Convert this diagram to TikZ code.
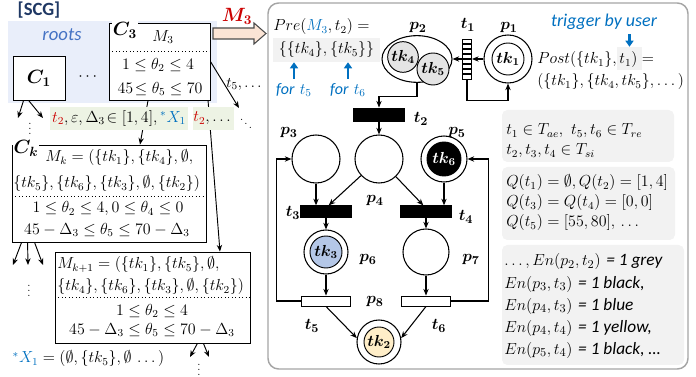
\documentclass[tikz,border=0pt]{standalone}
\usepackage{amsmath,amssymb}
\usepackage{bm}
\usepackage{fontspec}
\newfontfamily\calib{Carlito}
\usetikzlibrary{arrows.meta,positioning,shapes.geometric}

\definecolor{scgnavy}{RGB}{31,56,100}
\definecolor{rootblue}{RGB}{68,114,196}
\definecolor{noteblue}{RGB}{0,112,192}
\definecolor{labred}{RGB}{204,0,0}
\definecolor{bgblue}{RGB}{233,238,250}
\definecolor{bggreen}{RGB}{237,243,228}
\definecolor{bggrey}{RGB}{242,242,242}
\definecolor{tokgrey}{RGB}{228,228,228}
\definecolor{tokblue}{RGB}{180,199,231}
\definecolor{tokyellow}{RGB}{255,238,200}
\definecolor{peach}{RGB}{251,228,213}
\definecolor{framegrey}{RGB}{165,165,165}

\tikzset{
  arc/.style={-{Stealth[length=5pt,width=4pt]}, line width=0.8pt},
  tree/.style={-{Stealth[length=5pt,width=4pt]}, line width=0.7pt},
  notearrow/.style={-{Triangle[length=4.5pt,width=6pt]}, line width=1.6pt, noteblue},
  place/.style={circle, draw, line width=0.8pt, minimum size=36pt, inner sep=0pt},
  token/.style={circle, draw, line width=0.7pt, minimum size=24pt, inner sep=0pt},
  bar/.style={rectangle, draw, fill=black, line width=0.7pt, minimum width=38pt, minimum height=8.5pt, inner sep=0pt},
  wbar/.style={rectangle, draw, fill=white, line width=0.7pt, minimum width=37pt, minimum height=7.5pt, inner sep=0pt},
  lbl/.style={inner sep=0.5pt, font=\fontsize{13}{15}\selectfont},
  cbox/.style={rectangle, draw, line width=0.65pt, fill=white, inner sep=0pt},
  infobox/.style={rectangle, rounded corners=4pt, fill=bggrey, inner sep=0pt},
  smalldots/.style={inner sep=0pt, font=\fontsize{8}{9}\selectfont},
}

\begin{document}
\begin{tikzpicture}[x=0.75pt,y=0.75pt,yscale=-1,font=\fontsize{12}{14}\selectfont]
\useasboundingbox (0,0) rectangle (696,377);

% state class graph
\fill[bgblue] (8,21) rectangle (217,103);
\node[font=\calib\bfseries\fontsize{14}{16}\selectfont, text=scgnavy] (scg) at (39,10) {[SCG]};
\node[font=\calib\itshape\fontsize{14}{16}\selectfont, text=rootblue] (roots) at (62,35) {roots};

\node[cbox, minimum width=39pt, minimum height=33pt] (C1) at (39,78) {};
\node[font=\fontsize{14}{16}\selectfont] (C1lbl) at (C1) {$\bm{C_1}$};
\node (rootdots) at (89,77) {$\cdots$};

\node[cbox, minimum width=75.75pt, minimum height=57.75pt] (C3) at (159.5,61.5) {};
\node[lbl, fill=white, font=\fontsize{14}{16}\selectfont] (C3lbl) at (125,30) {$\bm{C_3}$};
\node (C3m) at (163,37) {$M_3$};
\draw[dotted, line width=0.6pt] (109,51) -- (210,51);
\node (C3a) at (158,65) {$1 \le \theta_2 \le 4$};
\node (C3b) at (160,89) {$45\!\le \theta_5 \le 70$};

% successors of C1
\coordinate (c1l) at (18,118);
\coordinate (c1r) at (43,118);
\draw[tree] ([xshift=8.25pt]C1.south west) -- (c1l);
\draw[tree] ([xshift=12pt]C1.south west) -- (c1r);
\node[smalldots] (c1dots) at (30,125) {$\vdots$};

% successors of C3
\coordinate (c3next) at (239,108);
\draw[tree] (C3.east) -- (c3next);
\node[anchor=west, inner sep=0pt, font=\fontsize{11}{13}\selectfont] (c3t5) at (226,84) {$t_5,\dots$};
\node[smalldots] (c3dd) at (246,120) {$\ddots$};

\node[cbox, minimum width=145.5pt, minimum height=72.75pt] (Ck) at (109,193.5) {};
\node[cbox, minimum width=146.25pt, minimum height=68.25pt] (Mk1) at (152.5,297.5) {};
\draw[tree] ([xshift=-8.6pt]C3.south) -- ([xshift=23.25pt]Ck.north);
\draw[tree] ([xshift=36.4pt]C3.south) -- ([xshift=50.6pt]Mk1.north);

\node[fill=bggreen, minimum width=103.5pt, minimum height=17pt, inner sep=0pt, font=\fontsize{11.5}{13}\selectfont] (ev1) at (119,118.5)
  {$\textcolor{labred}{t_2}, \varepsilon, \Delta_3\!\in[1,4], \textcolor{noteblue}{^{*}X_1}$};
\node[fill=bggreen, minimum width=27.75pt, minimum height=17pt, inner sep=0pt, font=\fontsize{11.5}{13}\selectfont] (ev2) at (213.5,118.5)
  {$\textcolor{labred}{t_2},\dots$};

% class Ck
\node[lbl, fill=white, font=\fontsize{14}{16}\selectfont] (Cklbl) at (26,148) {$\bm{C_k}$};
\node[anchor=west, inner sep=0pt] (Cka) at (45,158) {$M_k = (\{tk_1\},\{tk_4\},\emptyset,$};
\node[anchor=west, inner sep=0pt] (Ckb) at (13,184) {$\{tk_5\},\{tk_6\},\{tk_3\},\emptyset,\{tk_2\})$};
\draw[dotted, line width=0.6pt] (12,196) -- (206,196);
\node (Ckc) at (108,209) {$1 \le \theta_2 \le 4, 0 \le \theta_4 \le 0$};
\node (Ckd) at (107,230) {$45 - \Delta_3 \le \theta_5 \le 70 - \Delta_3$};

\coordinate (ckl) at (13,265);
\coordinate (ckm) at (28,265);
\coordinate (ckr) at (43,265);
\draw[tree] ([xshift=7.5pt]Ck.south west) -- (ckl);
\draw[tree] ([xshift=12pt]Ck.south west) -- (ckm);
\draw[tree] ([xshift=17.25pt]Ck.south west) -- (ckr);
\node[smalldots] (ckdots) at (29,287) {$\vdots$};

% class Mk+1
\node[anchor=west, inner sep=0pt] (Mka) at (57,265) {$M_{k+1} = (\{tk_1\},\{tk_5\},\emptyset,$};
\node[anchor=west, inner sep=0pt] (Mkb) at (57,287) {$\{tk_4\},\{tk_6\},\{tk_3\},\emptyset,\{tk_2\})$};
\draw[dotted, line width=0.6pt] (55,297) -- (250,297);
\node (Mkc) at (152,311) {$1 \le \theta_2 \le 4$};
\node (Mkd) at (152,330) {$45 - \Delta_3 \le \theta_5 \le 70 - \Delta_3$};

\coordinate (mkl) at (190,357);
\coordinate (mkr) at (209,357);
\draw[tree] ([xshift=-39.75pt]Mk1.south east) -- (mkl);
\draw[tree] ([xshift=-35.25pt]Mk1.south east) -- (mkr);
\node[smalldots] (mkdots) at (199,366) {$\vdots$};

\node[anchor=west] (xnote) at (8,359) {$\textcolor{noteblue}{^{*}X_1} = (\emptyset,\{tk_5\},\emptyset\,\dots)$};

% marking arrow
\draw[line width=0.8pt, draw=black!70, fill=peach] (213,28) -- (254,28) -- (254,23) -- (266,33.5)
  -- (254,44) -- (254,39) -- (213,39) -- cycle;
\node[font=\fontsize{14}{16}\selectfont, text=labred] (m3lbl) at (237,16) {$\bm{M_3}$};

% Petri net panel
\draw[framegrey, line width=1.1pt, rounded corners=8pt] (268,3) rectangle (688,369);

\node[anchor=west, inner sep=0pt] (pre) at (273,27) {$Pre(\textcolor{noteblue}{M_3},t_2)=$};
\node[fill=bggrey, minimum width=80pt, minimum height=18pt, inner sep=0pt] (preset) at (326.5,50) {$\{\{tk_4\},\{tk_5\}\}$};
\node[text=noteblue] (for5) at (294,90) {{\calib\itshape for} $t_5$};
\node[text=noteblue] (for6) at (348,90) {{\calib\itshape for} $t_6$};
\draw[notearrow] (for5.north) -- (for5.north |- preset.south);
\draw[notearrow] (for6.north) -- (for6.north |- preset.south);

\node[place] (p1) at (508,59) {};
\node[token, fill=white] (tk1) at (p1) {$\bm{tk_1}$};
\node[lbl] (p1lbl) at (509,28) {$\bm{p_1}$};

\node[draw, fill=white, minimum width=6.75pt, minimum height=30pt, inner sep=0pt, line width=0.7pt] (t1) at (467,59) {};
\foreach \y in {44,49,...,74} \draw[line width=1.4pt] (463,\y) -- (471,\y);
\node[lbl] (t1lbl) at (468,25) {$\bm{t_1}$};

\node[ellipse, draw, line width=0.8pt, minimum width=52.5pt, minimum height=35pt, inner sep=0pt] (p2) at (417,59) {};
\node[token, fill=tokgrey, minimum size=23pt] (tk4) at (403,57) {$\bm{tk_4}$};
\node[token, fill=tokgrey] (tk5) at (433,69) {$\bm{tk_5}$};
\node[lbl] (p2lbl) at (418,28) {$\bm{p_2}$};

\node[bar, minimum height=9.75pt] (t2) at (379,114.5) {};
\node[lbl] (t2lbl) at (421,119) {$\bm{t_2}$};

\node[place] (p3) at (316,159) {};
\node[lbl] (p3lbl) at (289,133) {$\bm{p_3}$};
\node[place] (p4) at (379,159) {};
\node[lbl] (p4lbl) at (375,201) {$\bm{p_4}$};
\node[place, minimum size=34.5pt] (p5) at (444,159) {};
\node[token, fill=black, text=white, minimum size=25.5pt] (tk6) at (p5) {$\bm{tk_6}$};
\node[lbl] (p5lbl) at (457,133) {$\bm{p_5}$};

\node[bar] (t3) at (326,211.5) {};
\node[lbl] (t3lbl) at (293,213) {$\bm{t_3}$};
\node[bar] (t4) at (426,211.5) {};
\node[lbl] (t4lbl) at (466,217) {$\bm{t_4}$};

\node[place, minimum size=33pt] (p6) at (326,252) {};
\node[token, fill=tokblue] (tk3) at (p6) {$\bm{tk_3}$};
\node[lbl] (p6lbl) at (368,260) {$\bm{p_6}$};
\node[place, minimum size=34.5pt] (p7) at (426,252) {};
\node[lbl] (p7lbl) at (471,260) {$\bm{p_7}$};

\node[wbar] (t5) at (326,301) {};
\node[lbl] (t5lbl) at (312,326) {$\bm{t_5}$};
\node[wbar] (t6) at (426,301) {};
\node[lbl] (t6lbl) at (439,326) {$\bm{t_6}$};

\node[place, minimum size=33pt] (p8) at (379,342) {};
\node[token, fill=tokyellow, minimum size=22.5pt] (tk2) at (p8) {$\bm{tk_2}$};
\node[lbl] (p8lbl) at (375,302) {$\bm{p_8}$};

\draw[arc] (p1) -- (t1);
\draw[arc] (t1) -- (p2);
\draw[arc] (t1.south) -- ++(0,21) -| (p1.south);
\draw[arc] (p2.south) -- ++(0,14) -| (t2.north);
\draw[arc] (t2) -- (p4);
\draw[arc] (p3) -- (p3 |- t3.north);
\draw[arc] (p4) -- ([xshift=2pt]t3.north);
\draw[arc] (p4) -- ([xshift=-2pt]t4.north);
\draw[arc] (p5) -- (p5 |- t4.north);
\draw[arc] (t3) -- (p6);
\draw[arc] (t4) -- (p7);
\draw[arc] (p6) -- (t5);
\draw[arc] (p7) -- (t6);
\draw[arc] (t5.south) -- (p8.170);
\draw[arc] (t6.south) -- (p8.10);
\draw[arc] (t5.west) -- ++(-24,0) |- (p3.west);
\draw[arc] (t6.east) -- ++(37,0) |- (p5.east);

% post set and notes
\node[fill=bggrey, minimum width=18.75pt, minimum height=17.25pt, inner sep=0pt] (t1hl) at (629.5,58.5) {};
\node[anchor=west, inner sep=0pt] (post) at (537,60) {$Post(\{tk_1\},t_1)=$};
\node[anchor=west, inner sep=0pt] (postb) at (537,82) {$(\{tk_1\},\{tk_4,tk_5\},\dots)$};
\node[text=noteblue, font=\calib\itshape\fontsize{13.5}{15}\selectfont] (trig) at (604,22) {trigger by user};
\draw[notearrow] (t1hl.north |- trig.south) -- (t1hl.north);

\node[infobox, minimum width=129pt, minimum height=39pt] (tset) at (588,136) {};
\node[anchor=west, inner sep=0pt] (tseta) at (506,131) {$t_1 \in T_{ae},\ t_5, t_6 \in T_{re}$};
\node[anchor=west, inner sep=0pt] (tsetb) at (506,151) {$t_2, t_3, t_4 \in T_{si}$};

\node[infobox, minimum width=129.75pt, minimum height=54.75pt] (qbox) at (588.5,203.5) {};
\node[anchor=west, inner sep=0pt] (qa) at (506,183) {$Q(t_1) = \emptyset, Q(t_2) = [1,4]$};
\node[anchor=west, inner sep=0pt] (qb) at (506,203) {$Q(t_3) = Q(t_4) = [0,0]$};
\node[anchor=west, inner sep=0pt] (qc) at (506,223) {$Q(t_5) = [55,80],\,\dots$};

\node[infobox, minimum width=136.5pt, minimum height=90pt] (enbox) at (593,305) {};
\begin{scope}[font=\fontsize{13}{15}\selectfont]
\node[anchor=west, inner sep=0pt] (ena) at (504,262) {$\dots, En(p_2,t_2)$ {\calib\itshape = 1 grey}};
\node[anchor=west, inner sep=0pt] (enb) at (504,284) {$En(p_3,t_3)$ {\calib\itshape = 1 black,}};
\node[anchor=west, inner sep=0pt] (enc) at (504,306) {$En(p_4,t_3)$ {\calib\itshape = 1 blue}};
\node[anchor=west, inner sep=0pt] (end) at (504,328) {$En(p_4,t_4)$ {\calib\itshape = 1 yellow,}};
\node[anchor=west, inner sep=0pt] (ene) at (504,350) {$En(p_5,t_4)$ {\calib\itshape = 1 black, \dots}};
\end{scope}

\end{tikzpicture}
\end{document}
